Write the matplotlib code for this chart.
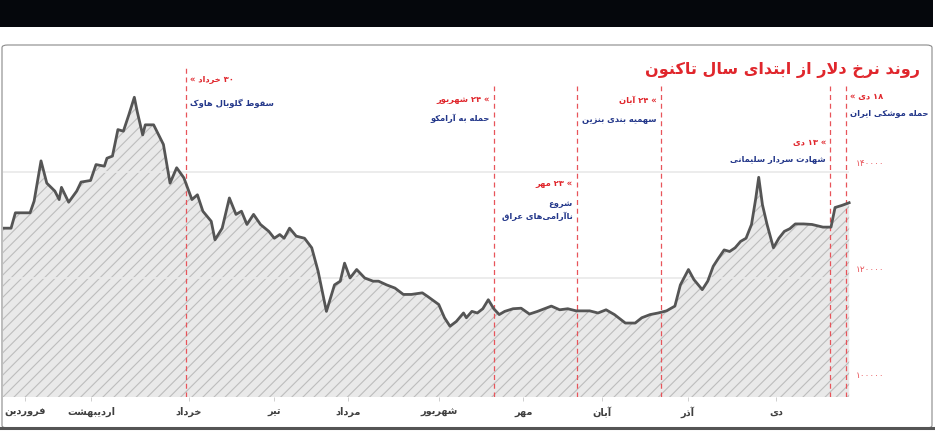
# -*- coding: utf-8 -*-
"""
	Dollar rate since the start of 1398, with event markers.
"""

import re
import matplotlib
matplotlib.use('Agg')
import matplotlib.pyplot as plt
from matplotlib import patches
from matplotlib.lines import Line2D

# ---- data ----
title = 'روند نرخ دلار از ابتدای سال تاکنون'

days = [0, 2.8, 4.3, 9.4, 10.8, 13.2, 15.2, 18.0, 19.5, 20.3, 22.8, 25.6, 27.1, 30.4, 32.3,
        35.2, 36.1, 38.0, 39.9, 41.8, 43.7, 45.6, 46.6, 48.5, 49.4, 52.3, 55.7, 58.0, 60.3,
        62.8, 65.6, 67.5, 69.4, 72.3, 73.6, 76.1, 78.6, 80.9, 82.8, 84.7, 87.0, 89.4, 92.3,
        94.2, 96.1, 97.6, 99.5, 101.8, 104.7, 107.2, 109.4, 112.3, 115.1, 117.1, 118.6, 120.5,
        122.8, 125.6, 128.5, 130.4, 133.2, 136.1, 139.0, 141.8, 145.6, 147.5, 151.3, 153.3,
        155.2, 157.4, 159.9, 160.9, 162.8, 164.7, 166.6, 168.5, 170.4, 172.3, 174.2, 177.1,
        179.9, 182.8, 185.6, 188.5, 190.4, 193.3, 196.1, 199.0, 203.7, 206.6, 209.4, 212.3,
        216.1, 219.5, 221.8, 224.7, 227.5, 230.4, 233.3, 235.2, 238.0, 239.9, 242.8, 244.7,
        246.6, 248.5, 250.4, 252.3, 254.2, 256.1, 258.0, 259.9, 261.4, 262.4, 263.7, 265.3,
        267.5, 269.4, 271.3, 273.2, 275.1, 278.0, 280.9, 284.7, 287.5, 288.9, 291.3, 293.8]

rate = [129400, 129400, 132300, 132300, 134500, 142100, 137900, 136400, 134800, 137100,
        134300, 136400, 138100, 138400, 141400, 141100, 142600, 143000, 148000, 147700,
        150800, 154100, 151400, 147000, 148900, 148900, 145200, 137900, 140800, 138900,
        134800, 135700, 132600, 130700, 127200, 129400, 135100, 132000, 132600, 130100,
        132000, 130100, 128800, 127500, 128200, 127500, 129400, 127900, 127500, 125700,
        121300, 113700, 118700, 119400, 122800, 120000, 121600, 120000, 119400, 119400,
        118700, 118100, 116900, 116900, 117200, 116500, 115000, 112500, 110900, 111800,
        113400, 112500, 113700, 113400, 114200, 115900, 114200, 113100, 113700, 114200,
        114300, 113200, 113700, 114300, 114700, 114000, 114200, 113800, 113800, 113400,
        114000, 113100, 111500, 111500, 112500, 113100, 113400, 113800, 114700, 118700,
        121600, 119700, 117800, 119400, 122200, 123800, 125300, 125000, 125700, 126900,
        127500, 130100, 135100, 139000, 133800, 130100, 125700, 127500, 128800, 129300,
        130200, 130200, 130100, 129600, 129600, 133300, 133700, 134200]

month_days = [7.6, 30.6, 64.6, 94.1, 119.8, 151.4, 180.6, 208.0, 237.8, 268.4]
month_names = ['فروردین', 'اردیبهشت', 'خرداد', 'تیر', 'مرداد', 'شهریور',
               'مهر', 'آبان', 'آذر', 'دی']

y_ticks = [100000, 120000, 140000]

event_days = [63.5, 170.5, 199.3, 228.5, 287.2, 292.7]
event_dates = ['۳۰ خرداد', '۲۴ شهریور', '۲۳ مهر', '۲۴ آبان', '۱۳ دی', '۱۸ دی']
event_titles = ['سقوط گلوبال هاوک', 'حمله به آرامکو', 'شروع\nناآرامی\u200cهای عراق',
                'سهمیه بندی بنزین', 'شهادت سردار سلیمانی', 'حمله موشکی ایران']

# ---- layout (pixels of the 935x433 picture) ----
W, H = 935, 433
PX_LEFT, PX_RIGHT = 3, 932
PX_TOP, PX_BOT = 48, 397
PPD = 2.88                       # pixels per day
Y140, PX_PER_20K = 172, 106.0
ev_side = ['right', 'left', 'left', 'left', 'left', 'right']
ev_y_date = [80, 100, 184, 101, 142, 97]
ev_y_title = [103, 118, 210, 120, 160, 114]
ev_top = [68, 86, 86, 86, 86, 86]

RED = '#e0262c'
LRED = '#e8545a'
BLUE = '#23378a'
GREY = '#3f3f3f'

# ---- tiny persian shaper (matplotlib does no arabic shaping) ----
FORMS = {
	'ا': ('\uFE8D', '\uFE8E', None, None), 'آ': ('\uFE81', '\uFE82', None, None),
	'ب': ('\uFE8F', '\uFE90', '\uFE91', '\uFE92'), 'پ': ('\uFB56', '\uFB57', '\uFB58', '\uFB59'),
	'ت': ('\uFE95', '\uFE96', '\uFE97', '\uFE98'), 'ث': ('\uFE99', '\uFE9A', '\uFE9B', '\uFE9C'),
	'ج': ('\uFE9D', '\uFE9E', '\uFE9F', '\uFEA0'), 'چ': ('\uFB7A', '\uFB7B', '\uFB7C', '\uFB7D'),
	'ح': ('\uFEA1', '\uFEA2', '\uFEA3', '\uFEA4'), 'خ': ('\uFEA5', '\uFEA6', '\uFEA7', '\uFEA8'),
	'د': ('\uFEA9', '\uFEAA', None, None), 'ذ': ('\uFEAB', '\uFEAC', None, None),
	'ر': ('\uFEAD', '\uFEAE', None, None), 'ز': ('\uFEAF', '\uFEB0', None, None),
	'ژ': ('\uFB8A', '\uFB8B', None, None),
	'س': ('\uFEB1', '\uFEB2', '\uFEB3', '\uFEB4'), 'ش': ('\uFEB5', '\uFEB6', '\uFEB7', '\uFEB8'),
	'ص': ('\uFEB9', '\uFEBA', '\uFEBB', '\uFEBC'), 'ض': ('\uFEBD', '\uFEBE', '\uFEBF', '\uFEC0'),
	'ط': ('\uFEC1', '\uFEC2', '\uFEC3', '\uFEC4'), 'ظ': ('\uFEC5', '\uFEC6', '\uFEC7', '\uFEC8'),
	'ع': ('\uFEC9', '\uFECA', '\uFECB', '\uFECC'), 'غ': ('\uFECD', '\uFECE', '\uFECF', '\uFED0'),
	'ف': ('\uFED1', '\uFED2', '\uFED3', '\uFED4'), 'ق': ('\uFED5', '\uFED6', '\uFED7', '\uFED8'),
	'ک': ('\uFB8E', '\uFB8F', '\uFB90', '\uFB91'), 'گ': ('\uFB92', '\uFB93', '\uFB94', '\uFB95'),
	'ل': ('\uFEDD', '\uFEDE', '\uFEDF', '\uFEE0'), 'م': ('\uFEE1', '\uFEE2', '\uFEE3', '\uFEE4'),
	'ن': ('\uFEE5', '\uFEE6', '\uFEE7', '\uFEE8'), 'ه': ('\uFEE9', '\uFEEA', '\uFEEB', '\uFEEC'),
	'و': ('\uFEED', '\uFEEE', None, None), 'ی': ('\uFBFC', '\uFBFD', '\uFBFE', '\uFBFF'),
}
LAM_ALEF = {'ا': ('\uFEFB', '\uFEFC'), 'آ': ('\uFEF5', '\uFEF6')}


def dual(c):
	return c in FORMS and FORMS[c][2] is not None


def shape_line(s):
	out = []
	i = 0
	n = len(s)
	while i < n:
		c = s[i]
		if c not in FORMS:
			if c != '\u200c':
				out.append(c)
			i += 1
			continue
		prev = s[i - 1] if i > 0 else ''
		jp = dual(prev)
		if c == 'ل' and i + 1 < n and s[i + 1] in LAM_ALEF:
			out.append(LAM_ALEF[s[i + 1]][1 if jp else 0])
			i += 2
			continue
		nxt = s[i + 1] if i + 1 < n else ''
		jn = dual(c) and nxt in FORMS
		if jp and jn:
			out.append(FORMS[c][3])
		elif jp:
			out.append(FORMS[c][1])
		elif jn:
			out.append(FORMS[c][2])
		else:
			out.append(FORMS[c][0])
		i += 1
	# visual order: reverse, but keep digit runs left to right
	runs = re.findall(r'[0-9\u06F0-\u06F9]+|[^0-9\u06F0-\u06F9]+', ''.join(out))
	vis = []
	for r in reversed(runs):
		vis.append(r if re.match(r'[0-9\u06F0-\u06F9]', r) else r[::-1])
	return ''.join(vis)


def fa(s):
	return '\n'.join(shape_line(l) for l in s.split('\n'))


def fa_num(v):
	return ''.join('۰۱۲۳۴۵۶۷۸۹'[int(d)] for d in str(v))


def main():

	plt.rcParams['font.family'] = ['DejaVu Sans']
	plt.rcParams['hatch.linewidth'] = 0.8

	fig = plt.figure(figsize=(W / 100, H / 100), dpi=100)

	# dark band on top and the frame round the chart
	fig.patches.append(patches.Rectangle((0, 1 - 27 / H), 933 / W, 27 / H, transform=fig.transFigure,
		facecolor='#05070c', edgecolor='none'))
	fig.patches.append(patches.FancyBboxPatch((2 / W, 1 - 428 / H), 930 / W, 383 / H,
		boxstyle='round,pad=0,rounding_size=0.006', transform=fig.transFigure,
		fill=False, edgecolor='#8a8a8a', linewidth=0.8))
	fig.lines.append(Line2D([0, 1], [1 - 428 / H, 1 - 428 / H], transform=fig.transFigure,
		color='#555555', linewidth=2.2))

	# main axes
	ax = fig.add_axes([PX_LEFT / W, 1 - PX_BOT / H, (PX_RIGHT - PX_LEFT) / W, (PX_BOT - PX_TOP) / H])
	ax.patch.set_alpha(0)
	ax.set_xlim(0, (PX_RIGHT - PX_LEFT) / PPD)
	ybot = 140000 - (PX_BOT - Y140) * 20000 / PX_PER_20K
	ytop = 140000 + (Y140 - PX_TOP) * 20000 / PX_PER_20K
	ax.set_ylim(ybot, ytop)
	for s in ax.spines.values():
		s.set_visible(False)

	ax.fill_between(days, rate, ybot, facecolor='#e9e9e9', edgecolor='#bdbdbd',
		hatch='///', linewidth=0, zorder=1)
	ax.hlines(y_ticks[1:], 0, days[-1], color='#e9e9e9', linewidth=1.2, zorder=2)
	ax.plot(days, rate, color='#555555', linewidth=2.0, zorder=4, solid_joinstyle='round')

	# y labels on the right
	for v in y_ticks:
		ax.annotate(fa_num(v), xy=(days[-1], v), xytext=(5, 3), textcoords='offset points',
			ha='left', va='bottom', fontsize=6.5, color=LRED)

	# month labels
	ax.set_xticks(month_days, [fa(m) for m in month_names])
	ax.set_yticks([])
	ax.tick_params(axis='x', length=3, width=0.6, color='#c8c8c8', pad=4,
		labelsize=7, labelcolor=GREY)
	for t in ax.get_xticklabels():
		t.set_fontweight('bold')

	# events
	span = PX_BOT - PX_TOP
	for d, dt, tt, side, yd, yt, top in zip(event_days, event_dates, event_titles,
			ev_side, ev_y_date, ev_y_title, ev_top):
		ax.axvline(d, ymin=0, ymax=(PX_BOT - top) / span, color=LRED,
			linestyle=(0, (4, 3)), linewidth=0.9, zorder=3)
		if side == 'right':
			lab = '« ' + fa(dt)
			off, ha = 3, 'left'
		else:
			lab = fa(dt) + ' «'
			off, ha = -3, 'right'
		ax.annotate(lab, xy=(d, (PX_BOT - yd) / span), xycoords=('data', 'axes fraction'),
			xytext=(off, 0), textcoords='offset points', ha=ha, va='center',
			fontsize=6, color=RED, fontweight='bold')
		ax.annotate(fa(tt), xy=(d, (PX_BOT - yt) / span), xycoords=('data', 'axes fraction'),
			xytext=(off, 0), textcoords='offset points', ha=ha, va='center',
			fontsize=6, color=BLUE, fontweight='bold', multialignment='right',
			linespacing=1.5)

	# title
	fig.text(920 / W, 1 - 70 / H, fa(title), ha='right', va='center',
		fontsize=11.5, fontweight='bold', color=RED)

	fig.savefig('out.png', dpi=100)


if __name__ == '__main__':
	main()
